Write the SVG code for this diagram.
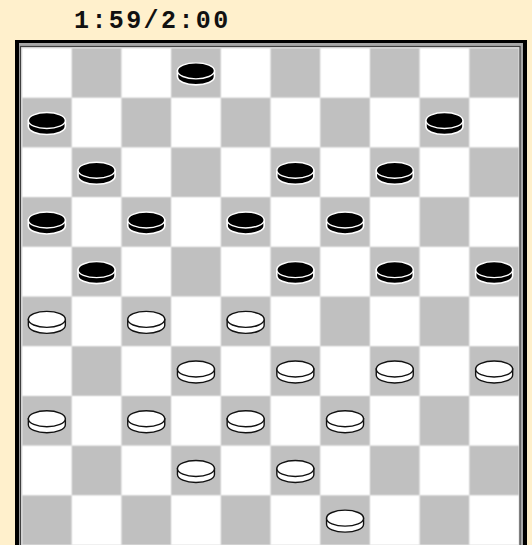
<svg xmlns="http://www.w3.org/2000/svg" xmlns:xlink="http://www.w3.org/1999/xlink" width="532" height="545" viewBox="0 0 532 545">
<style>
.title{font-family:"Liberation Mono","DejaVu Sans Mono",monospace;font-weight:bold;font-size:25px;letter-spacing:2.4px;fill:#111}
.bside{fill:#000;stroke:#fff;stroke-width:1.6}
.btop{fill:#000;stroke:#fff;stroke-width:1.4}
.wside{fill:#fff;stroke:#111;stroke-width:1.4}
.wtop{fill:#fff;stroke:#111;stroke-width:1.4}
</style>
<defs>
<pattern id="board" patternUnits="userSpaceOnUse" x="22" y="48" width="99.4" height="99.4">
<rect x="0" y="0" width="99.4" height="99.4" fill="#e2e2e2"/>
<rect x="0.5" y="0.5" width="48.7" height="48.7" fill="#fff"/>
<rect x="50.2" y="0.5" width="48.7" height="48.7" fill="#c0c0c0"/>
<rect x="0.5" y="50.2" width="48.7" height="48.7" fill="#c0c0c0"/>
<rect x="50.2" y="50.2" width="48.7" height="48.7" fill="#fff"/>
</pattern>
<g id="bp">
<path class="bside" d="M-18.5,-3 L-18.5,3 A18.5,8 0 0 0 18.5,3 L18.5,-3 Z"/>
<ellipse class="btop" cx="0" cy="-3" rx="18.5" ry="8"/>
</g>
<g id="wp">
<path class="wside" d="M-18.5,-3 L-18.5,3 A18.5,8 0 0 0 18.5,3 L18.5,-3 Z"/>
<ellipse class="wtop" cx="0" cy="-3" rx="18.5" ry="8"/>
</g>
</defs>
<rect x="0" y="0" width="532" height="545" fill="#fff0cc"/>
<text class="title" x="74" y="28">1:59/2:00</text>
<g id="frame">
<rect x="15" y="40" width="512" height="520" fill="#000"/>
<rect x="19" y="43" width="504" height="515" fill="#a8a8a8"/>
<rect x="20.5" y="46.5" width="499.5" height="510" fill="#e2e2e2" stroke="#404040" stroke-width="1.2"/>
<rect x="22" y="48" width="497" height="497" fill="url(#board)"/>
</g>
<g id="black-pieces">
<use xlink:href="#bp" x="195.95" y="73.85"/>
<use xlink:href="#bp" x="46.85" y="123.55"/>
<use xlink:href="#bp" x="444.45" y="123.55"/>
<use xlink:href="#bp" x="96.55" y="173.25"/>
<use xlink:href="#bp" x="295.35" y="173.25"/>
<use xlink:href="#bp" x="394.75" y="173.25"/>
<use xlink:href="#bp" x="46.85" y="222.95"/>
<use xlink:href="#bp" x="146.25" y="222.95"/>
<use xlink:href="#bp" x="245.65" y="222.95"/>
<use xlink:href="#bp" x="345.05" y="222.95"/>
<use xlink:href="#bp" x="96.55" y="272.65"/>
<use xlink:href="#bp" x="295.35" y="272.65"/>
<use xlink:href="#bp" x="394.75" y="272.65"/>
<use xlink:href="#bp" x="494.15" y="272.65"/>
</g>
<g id="white-pieces">
<use xlink:href="#wp" x="46.85" y="322.35"/>
<use xlink:href="#wp" x="146.25" y="322.35"/>
<use xlink:href="#wp" x="245.65" y="322.35"/>
<use xlink:href="#wp" x="195.95" y="372.05"/>
<use xlink:href="#wp" x="295.35" y="372.05"/>
<use xlink:href="#wp" x="394.75" y="372.05"/>
<use xlink:href="#wp" x="494.15" y="372.05"/>
<use xlink:href="#wp" x="46.85" y="421.75"/>
<use xlink:href="#wp" x="146.25" y="421.75"/>
<use xlink:href="#wp" x="245.65" y="421.75"/>
<use xlink:href="#wp" x="345.05" y="421.75"/>
<use xlink:href="#wp" x="195.95" y="471.45"/>
<use xlink:href="#wp" x="295.35" y="471.45"/>
<use xlink:href="#wp" x="345.05" y="521.15"/>
</g>
</svg>
